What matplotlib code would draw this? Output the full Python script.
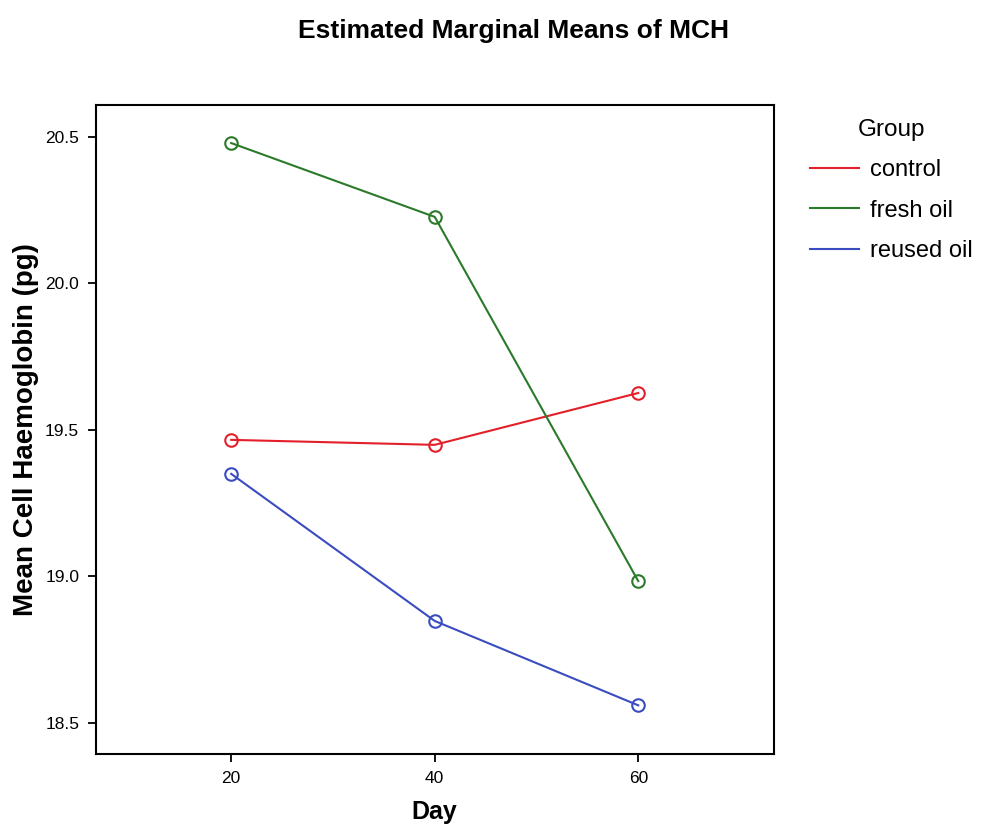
import matplotlib
matplotlib.use("Agg")
import matplotlib.pyplot as plt

days = [20, 40, 60]
groups = ["control", "fresh oil", "reused oil"]
control = [19.465, 19.448, 19.625]
fresh_oil = [20.478, 20.226, 18.983]
reused_oil = [19.349, 18.847, 18.559]
colors = ["#e3202a", "#2a7a2a", "#3a4cc0"]
yticks = [18.5, 19.0, 19.5, 20.0, 20.5]

plt.rcParams['font.family'] = ['Liberation Sans', 'DejaVu Sans']

fig = plt.figure(figsize=(9.88, 8.31), dpi=100)
ax = fig.add_axes([0.097, 0.0927, 0.686, 0.781])

handles = []
for vals, name, c in zip([control, fresh_oil, reused_oil], groups, colors):
    ax.plot(days, vals, color=c, lw=1.5)
    ax.plot(days, vals, 'o', mfc='none', mec=c, ms=9, mew=1.5)
    h, = ax.plot([], [], color=c, lw=1.5, label=name)
    handles.append(h)

ax.set_xlim(6.7, 73.3)
ax.set_ylim(18.393, 20.608)
ax.set_xticks(days)
ax.set_yticks(yticks)
ax.set_yticklabels([f"{v:.1f}" for v in yticks])
ax.tick_params(axis='both', labelsize=12.5, length=6, width=1.3, direction='out', pad=6)
for s in ax.spines.values():
    s.set_linewidth(1.5)

ax.set_xlabel("Day", fontsize=18, fontweight='bold', labelpad=10)
ax.set_ylabel("Mean Cell Haemoglobin (pg)", fontsize=20, fontweight='bold', labelpad=4)

fig.text(0.52, 0.963, "Estimated Marginal Means of MCH", ha='center', va='center',
         fontsize=19, fontweight='bold')

leg = fig.legend(handles=handles, loc='upper left', bbox_to_anchor=(0.803, 0.877),
                 title="Group", fontsize=17, title_fontsize=17.5, frameon=False,
                 handlelength=2.1, handletextpad=0.45, labelspacing=0.78,
                 borderpad=0.2)

fig.savefig("out.png", dpi=100)
